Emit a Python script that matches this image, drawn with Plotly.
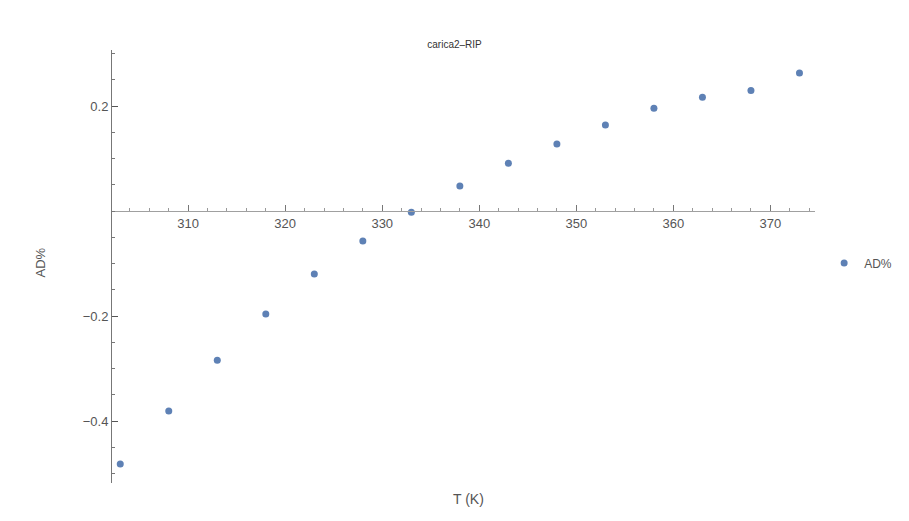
import plotly.graph_objects as go

T = [303, 308, 313, 318, 323, 328, 333, 338, 343, 348, 353, 358, 363, 368, 373]
AD = [-0.482, -0.381, -0.284, -0.196, -0.120, -0.057, -0.002, 0.048, 0.091, 0.128,
      0.164, 0.196, 0.217, 0.230, 0.263]
xticks = [310, 320, 330, 340, 350, 360, 370]
yticks = [-0.4, -0.2, 0.2]
yticktext = ["\u22120.4", "\u22120.2", "0.2"]

xr = [302.15, 374.6]
yr = [-0.518, 0.307]

blue = "#5E81B5"
axc = "#a0a0a0"
tc = "#555555"

fig = go.Figure()
fig.add_trace(go.Scatter(x=T, y=AD, mode="markers", name="AD%",
                         marker=dict(color=blue, size=7)))

zero_pos = (0 - yr[0]) / (yr[1] - yr[0])

fig.update_layout(
    width=909, height=521,
    margin=dict(l=112, r=94, t=50, b=38, autoexpand=False),
    plot_bgcolor="white", paper_bgcolor="white",
    font=dict(family="Liberation Sans, Arial, sans-serif", color=tc, size=12),
    title=dict(text="carica2\u2013RIP", x=0.5, xanchor="center", y=0.915, yanchor="middle",
               font=dict(size=10, color="#333333")),
    showlegend=True,
    legend=dict(x=1.013, y=0.508, xanchor="left", yanchor="middle", itemwidth=30,
                font=dict(size=12, color=tc), bgcolor="rgba(0,0,0,0)"),
    xaxis=dict(range=xr, showgrid=False, zeroline=False, showline=True, linecolor=axc,
               linewidth=1, anchor="free", position=zero_pos, side="bottom",
               tickvals=xticks, ticks="inside", ticklen=6, tickcolor="#777777",
               minor=dict(dtick=2, tick0=310, ticks="inside", ticklen=3, tickcolor="#999999"),
               tickfont=dict(size=13, color=tc)),
    yaxis=dict(range=yr, showgrid=False, zeroline=False, showline=True, linecolor="#777777",
               linewidth=1, tickvals=yticks, ticktext=yticktext, ticks="inside", ticklen=6,
               tickcolor="#555555",
               minor=dict(dtick=0.05, tick0=0, ticks="inside", ticklen=3, tickcolor="#777777"),
               tickfont=dict(size=13, color=tc)),
    annotations=[
        dict(text="T (K)", xref="paper", yref="paper", x=0.507, y=-0.015, yanchor="top",
             xanchor="center", showarrow=False, font=dict(size=14, color=tc)),
        dict(text="AD%", xref="paper", yref="paper", x=-0.102, y=0.51, textangle=-90,
             xanchor="center", yanchor="middle", showarrow=False, font=dict(size=13, color=tc)),
    ],
)

fig.write_html("out.html")
